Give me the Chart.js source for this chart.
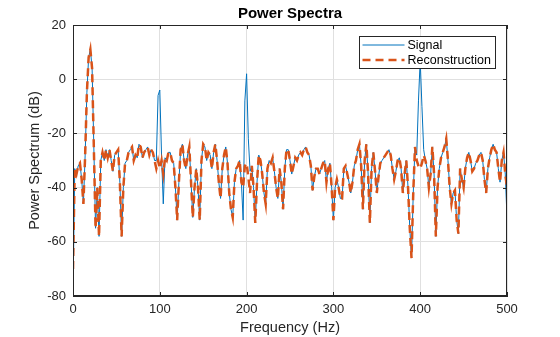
<!DOCTYPE html>
<html><head><meta charset="utf-8">
<script src="https://cdn.jsdelivr.net/npm/chart.js@4"></script>
<style>html,body{margin:0;padding:0;background:#fff;}#wrap{width:560px;height:337px;}</style>
</head><body><div id="wrap"><canvas id="c" width="560" height="337"></canvas></div>
<script>
// ---- data ----
const FREQ_STEP = 2; // Hz between samples
const signalDb = [
  -80, -33, -35, -32, -31, -37, -46, -28, -5, 8,
  11, 4, -25, -55, -40, -58, -30, -27, -30, -26,
  -29, -26, -30, -34, -28, -27, -26, -38, -58, -40,
  -31, -30, -27, -26, -25, -30, -28, -29, -24, -25,
  -29, -27, -26, -25, -28, -26, -27, -30, -30, -6,
  -4, -28, -46, -29, -30, -27, -27, -30, -31, -40,
  -52, -38, -26, -24, -30, -33, -28, -25, -38, -51,
  -40, -33, -40, -52, -30, -24, -25, -30, -27, -28,
  -33, -27, -24, -30, -38, -44, -33, -28, -25, -31,
  -42, -48, -51, -38, -33, -32, -30, -38, -52, -8,
  2, -22, -34, -32, -40, -53, -38, -28, -30, -35,
  -42, -46, -33, -30, -31, -29, -34, -40, -44, -33,
  -38, -48, -33, -26, -26, -30, -35, -32, -29, -30,
  -28, -27, -28, -26, -25, -27, -28, -32, -41, -36,
  -33, -33, -35, -33, -31, -30, -38, -33, -31, -40,
  -52, -40, -37, -40, -44, -44, -33, -32, -35, -38,
  -42, -38, -32, -30, -26, -24, -32, -48, -30, -24,
  -35, -53, -33, -27, -34, -42, -36, -31, -30, -29,
  -28, -27, -26, -28, -33, -37, -34, -30, -29, -33,
  -42, -35, -30, -40, -55, -66, -42, -25, -28, -8,
  7, -10, -26, -30, -33, -40, -35, -25, -35, -58,
  -40, -33, -29, -27, -25, -22, -30, -40, -46, -42,
  -41, -52, -57, -33, -37, -40, -33, -29, -27, -30,
  -34, -33, -31, -30, -28, -27, -30, -37, -42, -33,
  -29, -26, -24, -26, -27, -33, -38, -30, -27, -35,
  -51
];
const reconDb = [
  -70, -33, -35, -32, -31, -37, -46, -28, -5, 8,
  11, 4, -25, -55, -40, -58, -30, -27, -30, -26,
  -29, -26, -30, -34, -28, -27, -26, -38, -58, -40,
  -31, -30, -27, -26, -25, -30, -28, -29, -24, -25,
  -29, -27, -26, -25, -28, -26, -27, -30, -33, -30,
  -33, -30, -35, -29, -30, -27, -27, -30, -31, -40,
  -52, -38, -26, -24, -30, -33, -28, -25, -38, -51,
  -40, -33, -40, -52, -30, -24, -25, -30, -27, -28,
  -33, -27, -24, -30, -38, -44, -33, -28, -25, -31,
  -42, -48, -51, -38, -33, -32, -30, -38, -40, -32,
  -31, -36, -42, -32, -40, -53, -38, -28, -30, -35,
  -42, -46, -33, -30, -31, -29, -34, -40, -44, -33,
  -38, -48, -33, -26, -26, -30, -35, -32, -29, -30,
  -28, -27, -28, -26, -25, -27, -28, -32, -41, -36,
  -33, -33, -35, -33, -31, -30, -38, -33, -31, -40,
  -52, -40, -37, -40, -44, -44, -33, -32, -35, -38,
  -42, -38, -32, -30, -26, -24, -32, -48, -30, -24,
  -35, -53, -33, -27, -34, -42, -36, -31, -30, -29,
  -28, -27, -26, -28, -33, -37, -34, -30, -29, -33,
  -42, -35, -30, -40, -55, -66, -42, -25, -30, -32,
  -33, -31, -28, -30, -33, -40, -35, -25, -35, -58,
  -40, -33, -29, -27, -25, -22, -30, -40, -46, -42,
  -41, -52, -57, -33, -37, -40, -33, -29, -27, -30,
  -34, -33, -31, -30, -28, -27, -30, -37, -42, -33,
  -29, -26, -24, -26, -27, -33, -38, -30, -27, -35,
  -40
];
const freqs = signalDb.map((_, i) => i * FREQ_STEP);
const xTicks = [0, 100, 200, 300, 400, 500];
const yTicks = [-80, -60, -40, -20, 0, 20];
const seriesNames = ['Signal', 'Reconstruction'];
const titleText = 'Power Spectra';
const xLabel = 'Frequency (Hz)';
const yLabel = 'Power Spectrum (dB)';

// ---- styles ----
const FONT = "'Liberation Sans', Arial, Helvetica, sans-serif";
const AX = '#262626';
const GRID = '#e0e0e0';
const BLUE = '#0072BD';
const ORANGE = '#D95319';
const DASH = [8, 5];

const toPts = arr => arr.map((v, i) => ({x: freqs[i], y: v}));

const framePlugin = {
  id: 'frame',
  afterDraw(chart) {
    const {ctx, chartArea: a, scales: {x, y}} = chart;
    ctx.save();
    ctx.strokeStyle = AX;
    ctx.lineWidth = 1;
    // box
    ctx.strokeRect(Math.round(a.left) + 0.5, Math.round(a.top) + 0.5,
      Math.round(a.right - a.left) - 1, Math.round(a.bottom - a.top) - 1);
    // inward ticks
    const TL = 4;
    ctx.beginPath();
    xTicks.forEach(v => {
      const px = Math.round(x.getPixelForValue(v)) + 0.5;
      ctx.moveTo(px, a.bottom); ctx.lineTo(px, a.bottom - TL);
      ctx.moveTo(px, a.top); ctx.lineTo(px, a.top + TL);
    });
    yTicks.forEach(v => {
      const py = Math.round(y.getPixelForValue(v)) + 0.5;
      ctx.moveTo(a.left, py); ctx.lineTo(a.left + TL, py);
      ctx.moveTo(a.right, py); ctx.lineTo(a.right - TL, py);
    });
    ctx.stroke();
    // title centred over the plot area
    ctx.fillStyle = '#000';
    ctx.font = 'bold 15px ' + FONT;
    ctx.textAlign = 'center';
    ctx.textBaseline = 'middle';
    ctx.fillText(titleText, (a.left + a.right) / 2, 14);
    // legend
    const lx = 359.5, ly = 36.5, lw = 136, lh = 32;
    ctx.fillStyle = '#fff';
    ctx.fillRect(lx, ly, lw, lh);
    ctx.strokeStyle = AX;
    ctx.lineWidth = 1;
    ctx.strokeRect(lx, ly, lw, lh);
    const ds = chart.data.datasets;
    const rows = [ly + 8.5, ly + 23.5];
    ds.forEach((d, i) => {
      ctx.beginPath();
      ctx.strokeStyle = d.borderColor;
      ctx.lineWidth = d.borderWidth;
      ctx.setLineDash(d.borderDash || []);
      ctx.moveTo(lx + 3, rows[i]);
      ctx.lineTo(lx + 45, rows[i]);
      ctx.stroke();
      ctx.setLineDash([]);
      ctx.fillStyle = '#000';
      ctx.font = '12.5px ' + FONT;
      ctx.textBaseline = 'middle';
      ctx.textAlign = 'left';
      ctx.fillText(d.label, lx + 48, rows[i] + 0.5);
    });
    ctx.restore();
  }
};

new Chart(document.getElementById('c'), {
  type: 'line',
  data: {
    datasets: [
      {label: seriesNames[0], data: toPts(signalDb), borderColor: BLUE, borderWidth: 1,
       pointRadius: 0, tension: 0, fill: false, order: 1},
      {label: seriesNames[1], data: toPts(reconDb), borderColor: ORANGE, borderWidth: 2.5,
       borderDash: DASH, pointRadius: 0, tension: 0, fill: false, order: 0}
    ]
  },
  options: {
    responsive: false,
    animation: false,
    devicePixelRatio: 1,
    layout: {padding: {left: 0, right: 53, top: 25, bottom: 0}},
    plugins: {
      legend: {display: false},
      tooltip: {enabled: false},
      title: {display: false}
    },
    scales: {
      x: {
        type: 'linear', min: 0, max: 500,
        afterBuildTicks: s => { s.ticks = xTicks.map(v => ({value: v})); },
        afterFit: s => { s.height = 41; },
        grid: {color: GRID, drawTicks: false},
        border: {color: AX},
        ticks: {color: AX, font: {family: FONT, size: 13}, padding: 6, maxRotation: 0},
        title: {display: true, text: xLabel, color: AX, font: {family: FONT, size: 14.5},
          padding: {top: 0, bottom: 0}}
      },
      y: {
        type: 'linear', min: -80, max: 20,
        afterBuildTicks: s => { s.ticks = yTicks.map(v => ({value: v})); },
        afterFit: s => { s.width = 73; },
        grid: {color: GRID, drawTicks: false},
        border: {color: AX},
        ticks: {color: AX, font: {family: FONT, size: 13}, padding: 7},
        title: {display: true, text: yLabel, color: AX, font: {family: FONT, size: 14.5},
          padding: {top: 26, bottom: 0}}
      }
    }
  },
  plugins: [framePlugin]
});
</script></body></html>
